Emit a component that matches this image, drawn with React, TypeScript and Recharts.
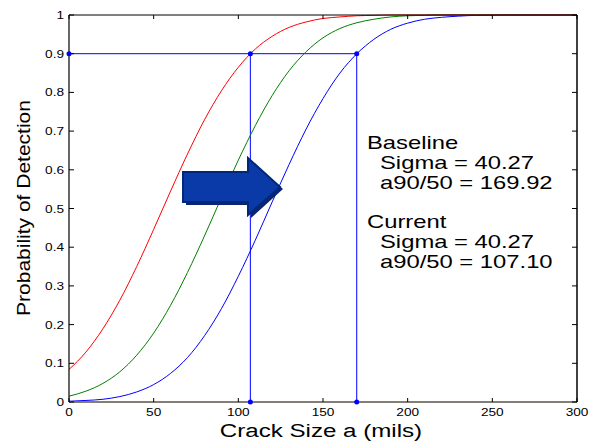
import React from 'react';
import { LineChart, Line, XAxis, YAxis, ReferenceLine, ReferenceDot } from 'recharts';

// Crack size (mils) sampled along the x axis
const crackSize = [0, 10, 20, 30, 40, 50, 60, 70, 80, 90, 100, 110, 120, 130, 140, 150, 160, 170, 180, 190, 200, 210, 220, 230, 240, 250, 260, 270, 280, 290, 300];
// Red curve (Current, a90 = 107.10)
const currentPod = [0.084, 0.129, 0.189, 0.263, 0.35, 0.446, 0.545, 0.641, 0.729, 0.804, 0.865, 0.912, 0.945, 0.968, 0.982, 0.991, 0.995, 0.998, 0.999, 1, 1, 1, 1, 1, 1, 1, 1, 1, 1, 1, 1];
// Green curve (intermediate)
const midPod = [0.015, 0.028, 0.048, 0.078, 0.121, 0.178, 0.25, 0.335, 0.429, 0.528, 0.625, 0.714, 0.792, 0.856, 0.905, 0.941, 0.965, 0.98, 0.989, 0.995, 0.998, 0.999, 1, 1, 1, 1, 1, 1, 1, 1, 1];
// Blue curve (Baseline, a90 = 169.92)
const baselinePod = [0.002, 0.004, 0.007, 0.014, 0.026, 0.045, 0.074, 0.115, 0.171, 0.241, 0.325, 0.418, 0.517, 0.614, 0.705, 0.784, 0.85, 0.9, 0.937, 0.963, 0.979, 0.989, 0.994, 0.997, 0.999, 0.9995, 1, 1, 1, 1, 1];

const xTicks = [0, 50, 100, 150, 200, 250, 300];
const yTicks = [0, 0.1, 0.2, 0.3, 0.4, 0.5, 0.6, 0.7, 0.8, 0.9, 1];

const pod90 = 0.9;
const a90Current = 107.1;
const a90Baseline = 169.92;

const baselineLines = ['Baseline', 'Sigma = 40.27', 'a90/50 = 169.92'];
const currentLines = ['Current', 'Sigma = 40.27', 'a90/50 = 107.10'];

const xLabel = 'Crack Size a (mils)';
const yLabel = 'Probability of Detection';

const data = crackSize.map((x, i) => ({
  x,
  current: currentPod[i],
  mid: midPod[i],
  baseline: baselinePod[i],
}));

const FONT = '"Liberation Sans", Arial, Helvetica, sans-serif';

function STxt(props: any) {
  const { x, y, sx = 1.3, size, anchor = 'start', fill = '#000', children } = props;
  return (
    <g transform={`translate(${x},${y}) scale(${sx},1)`}>
      <text x={0} y={0} fontSize={size} fontFamily={FONT} textAnchor={anchor} fill={fill}>
        {children}
      </text>
    </g>
  );
}

const BottomTick = (props: any) => {
  const { x, y, payload } = props;
  return (
    <g>
      <line x1={x} y1={y} x2={x} y2={y - 4} stroke="#000" />
      <STxt x={x} y={y + 14} size={10.5} anchor="middle">{String(payload.value)}</STxt>
    </g>
  );
};

const LeftTick = (props: any) => {
  const { x, y, payload } = props;
  return (
    <g>
      <line x1={x} y1={y} x2={x + 5} y2={y} stroke="#000" />
      <STxt x={x - 5} y={y + 4} size={10.5} anchor="end">{String(payload.value)}</STxt>
    </g>
  );
};

const TopTick = (props: any) => {
  const { x, y } = props;
  return <line x1={x} y1={y} x2={x} y2={y + 4} stroke="#000" />;
};

const RightTick = (props: any) => {
  const { x, y } = props;
  return <line x1={x} y1={y} x2={x - 5} y2={y} stroke="#000" />;
};

const guideStyle = { stroke: '#0000ff', strokeWidth: 1 };

export default function App() {
  return (
    <div style={{ position: 'absolute', left: 0, top: 0, width: 590, height: 443, background: '#fff' }}>
      <LineChart width={590} height={443} data={data} margin={{ top: 14, right: 12, bottom: 0, left: 0 }}>
        <XAxis
          dataKey="x"
          type="number"
          domain={[0, 300]}
          ticks={xTicks}
          height={41}
          tickSize={0}
          tickMargin={0}
          tickLine={false}
          axisLine={{ stroke: '#5b5447', strokeWidth: 1.5 }}
          tick={BottomTick}
          interval={0}
        />
        <XAxis
          xAxisId="top"
          dataKey="x"
          orientation="top"
          type="number"
          domain={[0, 300]}
          ticks={xTicks}
          height={1}
          tickSize={0}
          tickMargin={0}
          tickLine={false}
          axisLine={{ stroke: '#000', strokeWidth: 1 }}
          tick={TopTick}
          interval={0}
        />
        <YAxis
          type="number"
          domain={[0, 1]}
          ticks={yTicks}
          width={69}
          tickSize={0}
          tickMargin={0}
          tickLine={false}
          axisLine={{ stroke: '#000', strokeWidth: 1.2 }}
          tick={LeftTick}
          interval={0}
        />
        <YAxis
          yAxisId="right"
          orientation="right"
          type="number"
          domain={[0, 1]}
          ticks={yTicks}
          width={1}
          tickSize={0}
          tickMargin={0}
          tickLine={false}
          axisLine={{ stroke: '#000', strokeWidth: 1.5 }}
          tick={RightTick}
          interval={0}
        />
        <Line xAxisId="top" yAxisId="right" type="monotone" dataKey="current" stroke="none" dot={false} legendType="none" isAnimationActive={false} />
        <ReferenceLine segment={[{ x: 0, y: pod90 }, { x: a90Baseline, y: pod90 }]} {...guideStyle} ifOverflow="visible" />
        <ReferenceLine segment={[{ x: a90Current, y: 0 }, { x: a90Current, y: pod90 }]} {...guideStyle} ifOverflow="visible" />
        <ReferenceLine segment={[{ x: a90Baseline, y: 0 }, { x: a90Baseline, y: pod90 }]} {...guideStyle} ifOverflow="visible" />
        <Line type="monotone" dataKey="baseline" stroke="#0000ff" strokeWidth={1} dot={false} isAnimationActive={false} />
        <Line type="monotone" dataKey="mid" stroke="#008000" strokeWidth={1} dot={false} isAnimationActive={false} />
        <Line type="monotone" dataKey="current" stroke="#ff0000" strokeWidth={1} dot={false} isAnimationActive={false} />
        <ReferenceDot x={0} y={pod90} r={2.5} fill="#0000ff" stroke="none" ifOverflow="visible" />
        <ReferenceDot x={a90Current} y={pod90} r={2.5} fill="#0000ff" stroke="none" ifOverflow="visible" />
        <ReferenceDot x={a90Baseline} y={pod90} r={2.5} fill="#0000ff" stroke="none" ifOverflow="visible" />
        <ReferenceDot x={a90Current} y={0} r={2.5} fill="#0000ff" stroke="none" ifOverflow="visible" />
        <ReferenceDot x={a90Baseline} y={0} r={2.5} fill="#0000ff" stroke="none" ifOverflow="visible" />
      </LineChart>
      <svg width={590} height={443} style={{ position: 'absolute', left: 0, top: 0, pointerEvents: 'none' }}>
        {/* block arrow annotation */}
        <polygon points="186,175 251,175 251,161 283,189 251,218 251,205 186,205" fill="#0a2470" />
        <polygon points="183,172 248,172 248,158 280,187 248,215 248,202 183,202" fill="#0a3aa8" stroke="#00287a" strokeWidth={2} />
        {/* annotation text */}
        {baselineLines.map((t, i) => (
          <STxt key={'b' + i} x={i === 0 ? 367 : 380} y={149 + i * 20} size={17.5} sx={1.36}>{t}</STxt>
        ))}
        {currentLines.map((t, i) => (
          <STxt key={'c' + i} x={i === 0 ? 367 : 380} y={228 + i * 20} size={17.5} sx={1.36}>{t}</STxt>
        ))}
        {/* axis labels */}
        <STxt x={321} y={437} size={19} sx={1.27} anchor="middle">{xLabel}</STxt>
        <g transform="translate(30,208) rotate(-90) scale(1.2,1)">
          <text x={0} y={0} fontSize={17.5} fontFamily={FONT} textAnchor="middle" fill="#000">{yLabel}</text>
        </g>
      </svg>
    </div>
  );
}
